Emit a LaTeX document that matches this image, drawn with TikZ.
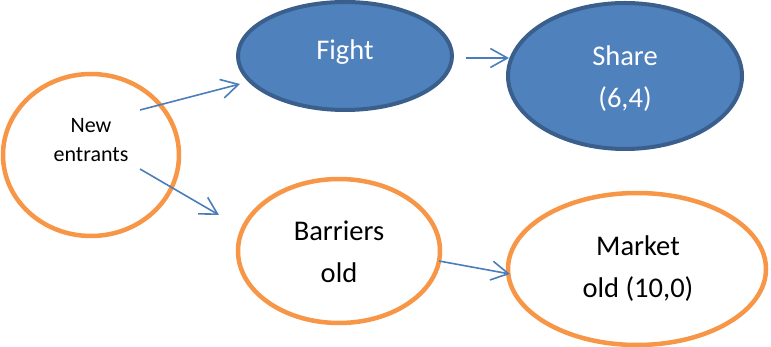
\documentclass[tikz,border=0pt]{standalone}
\usepackage{fontspec}
\setmainfont{Carlito}
\usetikzlibrary{shapes.geometric,arrows.meta,calc}
\definecolor{oblue}{HTML}{4F81BD}
\definecolor{oblueline}{HTML}{3A5F8C}
\definecolor{oorange}{HTML}{F79646}
\definecolor{oarrow}{HTML}{4A7EBB}
\tikzset{
  orangeell/.style={ellipse, draw=oorange, line width=4.5pt, fill=white, inner sep=0pt},
  blueell/.style={ellipse, draw=oblueline, line width=4pt, fill=oblue, inner sep=0pt},
  bigtext/.style={font=\fontsize{28.5}{42}\selectfont, align=center, inner sep=0pt, anchor=base},
  smalltext/.style={font=\fontsize{22}{29}\selectfont, align=center, inner sep=0pt, anchor=base},
  conn/.style={draw=oarrow, line width=1.6pt, -{Straight Barb[length=17pt,width=19pt,line width=1.6pt]}}
}
\begin{document}
\begin{tikzpicture}[x=1pt,y=-1pt]
\useasboundingbox (0,0) rectangle (771,347);
% ellipses
\node[orangeell, minimum width=176pt, minimum height=162pt] (ne) at (91,155) {};
\node[blueell, minimum width=214pt, minimum height=108pt] (fight) at (345,56) {};
\node[blueell, minimum width=234pt, minimum height=146pt] (share) at (625,76) {};
\node[orangeell, minimum width=202pt, minimum height=144pt] (barr) at (339,251) {};
\node[orangeell, minimum width=258pt, minimum height=152pt] (market) at (637,269) {};
% texts (base = baseline of the last line)
\node[smalltext] (neT) at (91,162) {New\\entrants};
\node[bigtext, text=white] (fightT) at (345,60) {Fight};
\node[bigtext, text=white] (shareT) at (625,108) {Share\\(6,4)};
\node[bigtext] (barrT) at (339,283) {Barriers\\old};
\node[bigtext] (marketT) at (638,298) {Market\\old (10,0)};
% connector ends
\coordinate (a1s) at ($(ne.center)+(49,-45)$);
\coordinate (a1e) at ($(fight.center)+(-105,28)$);
\coordinate (a2s) at ($(ne.center)+(49,14)$);
\coordinate (a2e) at ($(barr.center)+(-120,-36)$);
\coordinate (a3s) at ($(fight.center)+(121,2)$);
\coordinate (a3e) at ($(share.center)+(-116,-18)$);
\coordinate (a4s) at ($(barr.center)+(100,10)$);
\coordinate (a4e) at ($(market.center)+(-127,5)$);
\draw[conn] (a1s) -- (a1e);
\draw[conn] (a2s) -- (a2e);
\draw[conn] (a3s) -- (a3e);
\draw[conn] (a4s) -- (a4e);
\end{tikzpicture}
\end{document}
